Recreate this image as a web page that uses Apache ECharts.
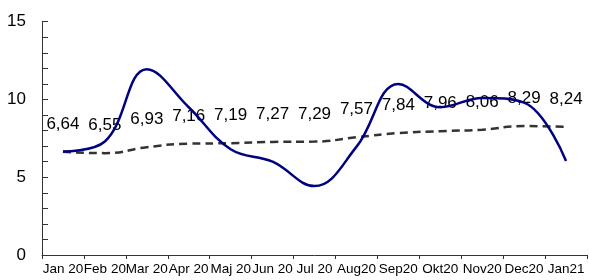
<!DOCTYPE html>
<html><head><meta charset="utf-8">
<script src="https://cdn.jsdelivr.net/npm/echarts@6/dist/echarts.min.js"></script>
<style>html,body{margin:0;padding:0;background:#fff}#c{width:589px;height:280px}</style>
</head><body><div id="c"></div>
<script>
const categories = ['Jan 20','Feb 20','Mar 20','Apr 20','Maj 20','Jun 20','Jul 20','Aug20','Sep20','Okt20','Nov20','Dec20','Jan21'];
const actual = [6.65, 7.3, 11.95, 9.5, 6.8, 6.0, 4.43, 6.95, 11.0, 9.5, 10.1, 9.8, 6.05];
const trend = [6.64, 6.55, 6.93, 7.16, 7.19, 7.27, 7.29, 7.57, 7.84, 7.96, 8.06, 8.29, 8.24];
const yTicks = [0, 5, 10, 15];

const FONT = '"Liberation Sans",Arial,sans-serif';
const chart = echarts.init(document.getElementById('c'));
chart.setOption({
  animation: false,
  grid: {left: 42, right: 2, top: 21.7, bottom: 25},
  xAxis: {
    type: 'category', data: categories, boundaryGap: true,
    axisLine: {lineStyle: {color: '#333', width: 1}},
    axisTick: {show: true, length: 4, lineStyle: {color: '#333'}},
    axisLabel: {interval: 0, color: '#000', fontSize: 13.5, fontFamily: FONT, margin: 7}
  },
  yAxis: {
    type: 'value', min: yTicks[0], max: yTicks[yTicks.length-1], interval: 5,
    axisLine: {show: true, lineStyle: {color: '#333', width: 1}},
    axisTick: {show: true, inside: true, length: 6, lineStyle: {color: '#333'}},
    minorTick: {show: true, splitNumber: 5, length: 6, lineStyle: {color: '#333'}},
    splitLine: {show: false},
    axisLabel: {color: '#000', fontSize: 17, fontFamily: FONT, margin: 16}
  },
  series: [
    {
      type: 'line', data: trend, smooth: true, z: 2,
      symbol: 'circle', symbolSize: 0,
      lineStyle: {color: '#333', width: 2.5, type: [8, 5]},
      itemStyle: {color: '#333'},
      label: {show: true, position: 'top', distance: 19, color: '#000', fontSize: 17, fontFamily: FONT,
        formatter: p => p.value.toFixed(2).replace('.', ',')}
    },
    {
      type: 'line', data: actual, smooth: 0.4, z: 5,
      showSymbol: false,
      lineStyle: {color: '#000080', width: 2.5}
    }
  ]
});
</script></body></html>
